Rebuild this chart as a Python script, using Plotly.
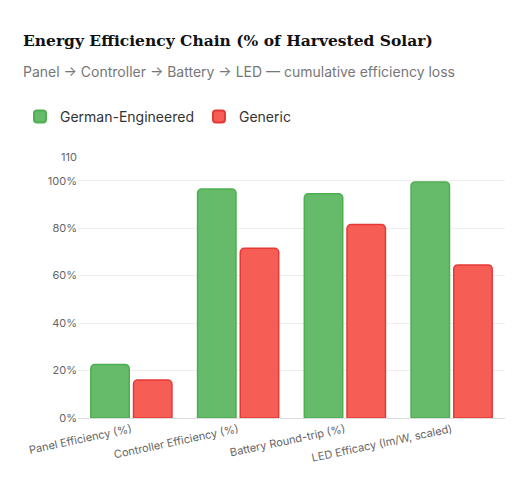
import plotly.graph_objects as go

categories = ["Panel Efficiency (%)", "Controller Efficiency (%)", "Battery Round-trip (%)", "LED Efficacy (lm/W, scaled)"]
german = [22.5, 96.5, 94.5, 99.5]
generic = [16, 71.5, 81.5, 64.5]
tick_vals = [0, 20, 40, 60, 80, 100, 110]
tick_text = ["0%", "20%", "40%", "60%", "80%", "100%", "110"]

fig = go.Figure()
fig.add_bar(name="German-Engineered", x=categories, y=german,
            marker=dict(color="#66bb6a", line=dict(color="#4caf50", width=1.5)))
fig.add_bar(name="Generic", x=categories, y=generic,
            marker=dict(color="#f65e55", line=dict(color="#e53935", width=1.5)))

L, T, B, R = 70, 149, 86, 35
ph = 496 - T - B
pw = 532 - L - R
top0 = 410  # y pixel of axis bottom in page coords after offset

def py(y):
    return (top0 - y) / ph

def px(x):
    return (x - L) / pw

fig.update_layout(
    width=532, height=496,
    margin=dict(l=L, r=R, t=T, b=B),
    plot_bgcolor="white", paper_bgcolor="white",
    barmode="group", bargap=0.2, bargroupgap=0.1, barcornerradius=4,
    font=dict(family="Inter", color="#666", size=12),
    legend=dict(orientation="h", x=px(12), y=py(109), xanchor="left", yanchor="middle",
                font=dict(size=14, color="#333"), itemsizing="constant"),
    annotations=[
        dict(text="<b>Energy Efficiency Chain (% of Harvested Solar)</b>", xref="paper", yref="paper",
             x=px(13), y=py(32), xanchor="left", yanchor="middle", showarrow=False,
             font=dict(family="DejaVu Serif", size=15.5, color="#111")),
        dict(text="Panel → Controller → Battery → LED — cumulative efficiency loss", xref="paper", yref="paper",
             x=px(13), y=py(64), xanchor="left", yanchor="middle", showarrow=False,
             font=dict(family="Inter", size=14, color="#777")),
    ],
)
fig.update_xaxes(tickangle=-12, showgrid=False, showline=True, linecolor="#ddd", tickfont=dict(size=11))
fig.update_yaxes(range=[0, 110], tickvals=tick_vals, ticktext=tick_text, gridcolor="#eee",
                 zeroline=False, tickfont=dict(size=11))
fig.write_html("out.html")
